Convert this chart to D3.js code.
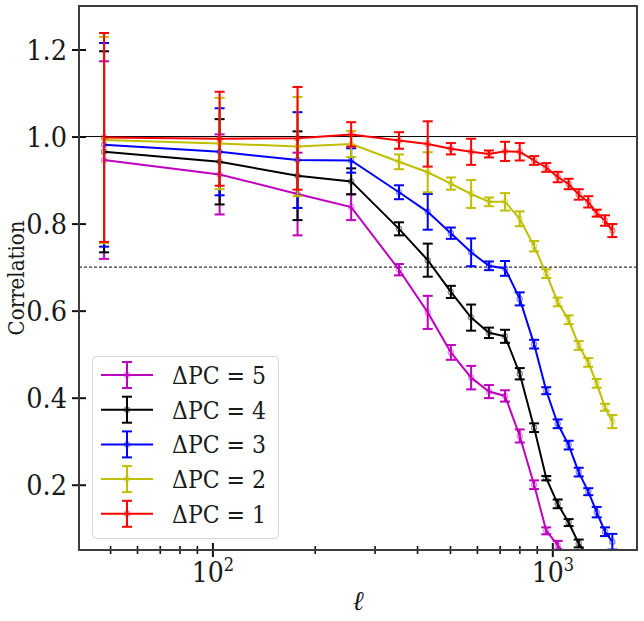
<!DOCTYPE html>
<html>
<head>
<meta charset="utf-8">
<script src="https://cdn.jsdelivr.net/npm/d3@7"></script>
<style>
  html, body { margin: 0; padding: 0; background: #fff; }
  svg text { font-family: "DejaVu Serif Condensed", "DejaVu Serif", serif; font-stretch: condensed; fill: #1a1a1a; }
</style>
</head>
<body>
<svg id="chart" width="644" height="621"></svg>
<script>
// ---- data ----
const ell = [48, 105, 178, 256, 354, 430, 503, 577, 651, 726, 802, 884, 960, 1037, 1117, 1196, 1276, 1351, 1429, 1502];

const corr1 = [0.998, 0.995, 0.996, 1.005, 0.991, 0.983, 0.972, 0.965, 0.960, 0.966, 0.965, 0.945, 0.929, 0.907, 0.891, 0.867, 0.850, 0.824, 0.807, 0.784];
const err1  = [0.240, 0.108, 0.118, 0.028, 0.019, 0.052, 0.013, 0.030, 0.008, 0.022, 0.020, 0.010, 0.010, 0.012, 0.012, 0.012, 0.013, 0.008, 0.012, 0.015];

const corr2 = [0.992, 0.984, 0.977, 0.983, 0.942, 0.918, 0.892, 0.868, 0.850, 0.850, 0.811, 0.748, 0.685, 0.620, 0.579, 0.520, 0.481, 0.433, 0.378, 0.345];
const err2  = [0.237, 0.105, 0.114, 0.030, 0.017, 0.046, 0.014, 0.032, 0.010, 0.020, 0.017, 0.012, 0.010, 0.010, 0.010, 0.010, 0.010, 0.010, 0.008, 0.015];

const corr3 = [0.981, 0.965, 0.946, 0.945, 0.872, 0.827, 0.778, 0.734, 0.703, 0.697, 0.627, 0.523, 0.416, 0.340, 0.291, 0.229, 0.184, 0.137, 0.092, 0.069];
const err3  = [0.234, 0.100, 0.110, 0.028, 0.016, 0.041, 0.013, 0.032, 0.010, 0.017, 0.015, 0.010, 0.008, 0.010, 0.010, 0.010, 0.008, 0.012, 0.010, 0.018];

const corr4 = [0.965, 0.942, 0.910, 0.897, 0.788, 0.716, 0.643, 0.584, 0.549, 0.541, 0.455, 0.331, 0.215, 0.156, 0.113, 0.065, 0.035];
const err4  = [0.231, 0.098, 0.102, 0.030, 0.015, 0.038, 0.014, 0.030, 0.012, 0.015, 0.013, 0.010, 0.005, 0.010, 0.008, 0.009, 0.008];

const corr5 = [0.946, 0.913, 0.868, 0.838, 0.694, 0.596, 0.504, 0.446, 0.414, 0.404, 0.312, 0.200, 0.094, 0.061, 0.030];
const err5  = [0.227, 0.092, 0.095, 0.030, 0.013, 0.038, 0.017, 0.027, 0.015, 0.013, 0.015, 0.010, 0.008, 0.010, 0.010];

const seriesLabels = ["ΔPC = 5", "ΔPC = 4", "ΔPC = 3", "ΔPC = 2", "ΔPC = 1"];
const seriesColors = ["#bf00bf", "#000000", "#0000ff", "#bfbf00", "#ff0000"];
const seriesValues = [corr5, corr4, corr3, corr2, corr1];
const seriesErrors = [err5, err4, err3, err2, err1];

const yTicks = [0.2, 0.4, 0.6, 0.8, 1.0, 1.2];
const xMajorTicks = [100, 1000];
const xMinorTicks = [50, 60, 70, 80, 90, 200, 300, 400, 500, 600, 700, 800, 900];
const refLines = [1.0, 0.7];

// ---- layout ----
const L = 79, R = 637, T = 6, B = 550;
const svg = d3.select("#chart");
const x = d3.scaleLog().domain([40.5, 1775]).range([L, R]);
const y = d3.scaleLinear().domain([0.05, 1.3]).range([B, T]);

svg.append("defs").append("clipPath").attr("id", "clip")
  .append("rect").attr("x", L).attr("y", T).attr("width", R - L).attr("height", B - T);

const plot = svg.append("g").attr("clip-path", "url(#clip)");
plot.selectAll("line.ref").data(refLines).enter().append("line")
  .attr("x1", L).attr("x2", R)
  .attr("y1", d => y(d)).attr("y2", d => y(d))
  .attr("stroke", "#000").attr("stroke-width", 1)
  .attr("stroke-dasharray", (d, i) => i === 1 ? "3,2" : null);

seriesValues.forEach((vals, si) => {
  const col = seriesColors[si];
  const errs = seriesErrors[si];
  const pts = vals.map((v, i) => ({ l: ell[i], v: v, e: errs[i] }));
  const g = plot.append("g");
  g.append("path").datum(pts)
    .attr("fill", "none").attr("stroke", col).attr("stroke-width", 2)
    .attr("d", d3.line().x(d => x(d.l)).y(d => y(d.v)));
  const eb = g.selectAll("g.eb").data(pts).enter().append("g");
  eb.append("line")
    .attr("x1", d => x(d.l)).attr("x2", d => x(d.l))
    .attr("y1", d => y(d.v - d.e)).attr("y2", d => y(d.v + d.e))
    .attr("stroke", col).attr("stroke-width", 2);
  [-1, 1].forEach(s => {
    eb.append("line")
      .attr("x1", d => x(d.l) - 5).attr("x2", d => x(d.l) + 5)
      .attr("y1", d => y(d.v + s * d.e)).attr("y2", d => y(d.v + s * d.e))
      .attr("stroke", col).attr("stroke-width", 2);
  });
  eb.append("circle")
    .attr("cx", d => x(d.l)).attr("cy", d => y(d.v)).attr("r", 2.6)
    .attr("fill", "none").attr("stroke", col).attr("stroke-opacity", 0.45).attr("stroke-width", 1.3);
});

const yAxis = svg.append("g").attr("transform", `translate(${L},0)`)
  .call(d3.axisLeft(y).tickValues(yTicks).tickFormat(d3.format(".1f")).tickSize(7))
  .attr("font-family", null);
yAxis.select(".domain").remove();
yAxis.selectAll(".tick line").attr("x1", -7).attr("x2", 7).attr("stroke", "#111").attr("stroke-width", 2);
yAxis.selectAll(".tick text").attr("font-size", 28.5).attr("x", -12).attr("dy", "0.36em").attr("fill", null);

const xMinor = svg.append("g").attr("transform", `translate(0,${B})`)
  .call(d3.axisBottom(x).tickValues(xMinorTicks).tickFormat("").tickSize(4));
xMinor.select(".domain").remove();
xMinor.selectAll(".tick line").attr("y1", -4).attr("y2", 4).attr("stroke", "#111").attr("stroke-width", 1.6);

const xMajor = svg.append("g").attr("transform", `translate(0,${B})`)
  .call(d3.axisBottom(x).tickValues(xMajorTicks).tickFormat("").tickSize(7))
  .attr("font-family", null);
xMajor.select(".domain").remove();
xMajor.selectAll(".tick line").attr("y1", -7).attr("y2", 7).attr("stroke", "#111").attr("stroke-width", 2);
xMajor.selectAll(".tick").each(function(d) {
  const t = d3.select(this).append("text")
    .attr("y", 32).attr("text-anchor", "middle").attr("font-size", 28);
  t.append("tspan").text("10");
  t.append("tspan").attr("font-size", 18).attr("dy", -11).text(String(Math.round(Math.log10(d))));
});

svg.append("rect").attr("x", L).attr("y", T).attr("width", R - L).attr("height", B - T)
  .attr("fill", "none").attr("stroke", "#3d3d3d").attr("stroke-width", 2);

svg.append("text").attr("transform", `translate(24,${(T + B) / 2}) rotate(-90)`)
  .attr("text-anchor", "middle").attr("font-size", 22).text("Correlation");
svg.append("text").attr("x", (L + R) / 2).attr("y", 610)
  .attr("text-anchor", "middle").attr("font-size", 27)
  .style("font-style", "italic").text("ℓ");

const lg = svg.append("g");
lg.append("rect").attr("x", 92.5).attr("y", 356.5).attr("width", 186).attr("height", 182)
  .attr("rx", 4).attr("fill", "#fff").attr("fill-opacity", 0.85)
  .attr("stroke", "#d6d6d6").attr("stroke-width", 1);
seriesLabels.forEach((lab, i) => {
  const cy = 375 + i * 34.7;
  const col = seriesColors[i];
  const e = lg.append("g");
  e.append("line").attr("x1", 101).attr("x2", 153).attr("y1", cy).attr("y2", cy)
    .attr("stroke", col).attr("stroke-width", 2);
  e.append("line").attr("x1", 127).attr("x2", 127).attr("y1", cy - 13).attr("y2", cy + 13)
    .attr("stroke", col).attr("stroke-width", 2);
  [-13, 13].forEach(o => e.append("line").attr("x1", 122).attr("x2", 132)
    .attr("y1", cy + o).attr("y2", cy + o).attr("stroke", col).attr("stroke-width", 2));
  e.append("circle").attr("cx", 127).attr("cy", cy).attr("r", 2.6)
    .attr("fill", "none").attr("stroke", col).attr("stroke-opacity", 0.45).attr("stroke-width", 1.3);
  e.append("text").attr("x", 172).attr("y", cy).attr("dy", "0.36em")
    .attr("font-size", 24.5).text(lab);
});
</script>
</body>
</html>
